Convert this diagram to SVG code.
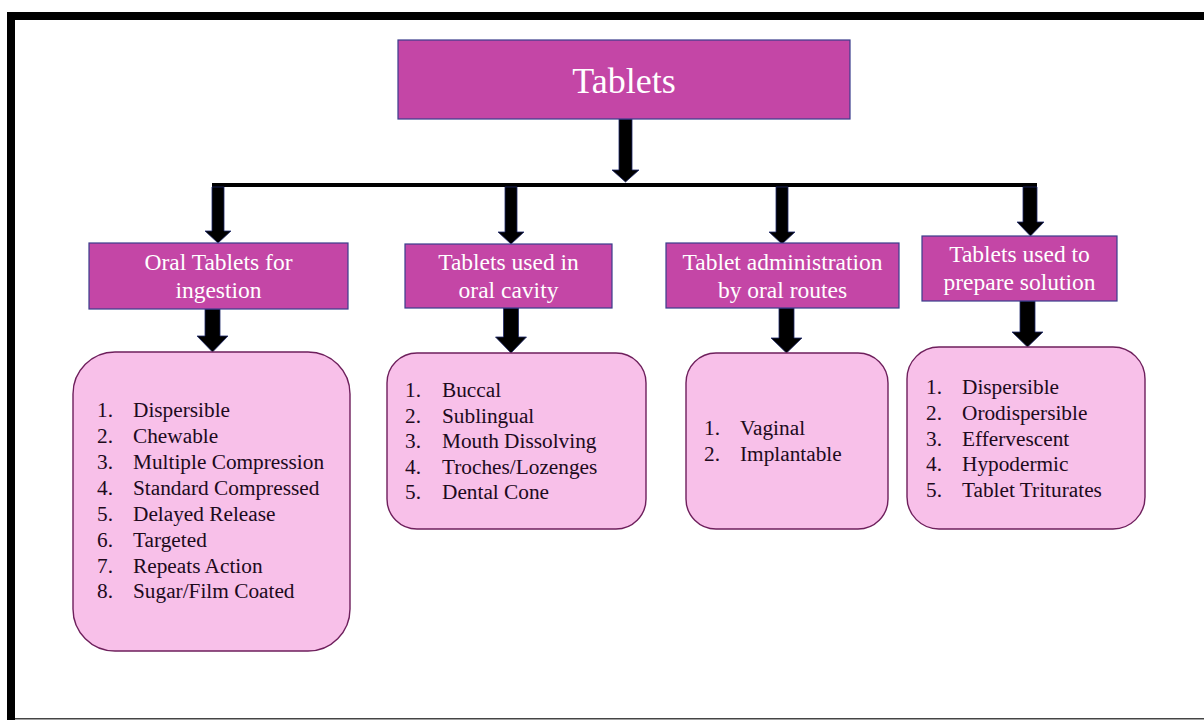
<svg xmlns="http://www.w3.org/2000/svg" width="1204" height="720" viewBox="0 0 1204 720">
<style>
.hdr{fill:#C446A6;stroke:#3A3D8C;stroke-width:1.2}
.list{fill:#F8C0E9;stroke:#6E1F5C;stroke-width:1.4}
.ht{font-family:"Liberation Serif",serif;fill:#FFFFFF;text-anchor:middle}
.lt{font-family:"Liberation Serif",serif;fill:#200A1C;font-size:21.3px}
.arr{fill:#000;stroke:#1F2A6B;stroke-width:0.8}
</style>
<rect width="1204" height="720" fill="#fff"/>
<g id="frame">
<rect x="7" y="12" width="1197" height="8" fill="#000"/>
<rect x="7" y="12" width="8" height="708" fill="#000"/>
<rect x="15" y="718" width="1189" height="1.5" fill="#444"/>
</g>
<g id="connectors">
<rect x="212" y="183" width="825" height="4" fill="#000"/>
<path class="arr" d="M619,119 H632 V170 H639 L625.5,182 L612,170 H619 Z"/>
<path class="arr" d="M212,187 H224 V231 H231 L218,243 L205,231 H212 Z"/>
<path class="arr" d="M505,187 H517 V232 H524 L511,244 L498,232 H505 Z"/>
<path class="arr" d="M776,187 H788 V232 H795 L782,244 L769,232 H776 Z"/>
<path class="arr" d="M1023,187 H1037 V222 H1044 L1030.5,236 L1017,222 H1023 Z"/>
<path class="arr" d="M205,309 H220 V336 H228 L212.5,352 L197,336 H205 Z"/>
<path class="arr" d="M503.5,308 H518.5 V337 H526.5 L511,353 L495.5,337 H503.5 Z"/>
<path class="arr" d="M779,308 H794 V338 H802 L786.5,353 L771,338 H779 Z"/>
<path class="arr" d="M1020,301 H1035 V332 H1043 L1027.5,347 L1012,332 H1020 Z"/>
</g>
<g id="tablets">
<rect class="hdr" x="398" y="40" width="452" height="79"/>
<text class="ht" x="624" y="93" font-size="36">Tablets</text>
</g>
<g id="oral-ingestion">
<rect class="hdr" x="89" y="243" width="259" height="66"/>
<text class="ht" x="218.5" y="270" font-size="23.5">Oral Tablets for</text>
<text class="ht" x="218.5" y="298" font-size="23.5">ingestion</text>
</g>
<g id="oral-cavity">
<rect class="hdr" x="405" y="244" width="207" height="64"/>
<text class="ht" x="508.5" y="270" font-size="23.5">Tablets used in</text>
<text class="ht" x="508.5" y="298" font-size="23.5">oral cavity</text>
</g>
<g id="oral-routes">
<rect class="hdr" x="666" y="243" width="233" height="65"/>
<text class="ht" x="782.5" y="270" font-size="23.5">Tablet administration</text>
<text class="ht" x="782.5" y="298" font-size="23.5">by oral routes</text>
</g>
<g id="solution">
<rect class="hdr" x="922" y="236" width="195" height="65"/>
<text class="ht" x="1019.5" y="262" font-size="23.5">Tablets used to</text>
<text class="ht" x="1019.5" y="290" font-size="23.5">prepare solution</text>
</g>
<g id="list-ingestion">
<rect class="list" x="73" y="352" width="277" height="299" rx="42" ry="42"/>
<text class="lt" x="97" y="417">1.</text><text class="lt" x="133" y="417">Dispersible</text>
<text class="lt" x="97" y="443">2.</text><text class="lt" x="133" y="443">Chewable</text>
<text class="lt" x="97" y="469">3.</text><text class="lt" x="133" y="469">Multiple Compression</text>
<text class="lt" x="97" y="495">4.</text><text class="lt" x="133" y="495">Standard Compressed</text>
<text class="lt" x="97" y="521">5.</text><text class="lt" x="133" y="521">Delayed Release</text>
<text class="lt" x="97" y="547">6.</text><text class="lt" x="133" y="547">Targeted</text>
<text class="lt" x="97" y="573">7.</text><text class="lt" x="133" y="573">Repeats Action</text>
<text class="lt" x="97" y="598">8.</text><text class="lt" x="133" y="598">Sugar/Film Coated</text>
</g>
<g id="list-cavity">
<rect class="list" x="387" y="353" width="259" height="176" rx="30" ry="30"/>
<text class="lt" x="405" y="397">1.</text><text class="lt" x="442" y="397">Buccal</text>
<text class="lt" x="405" y="422.5">2.</text><text class="lt" x="442" y="422.5">Sublingual</text>
<text class="lt" x="405" y="448">3.</text><text class="lt" x="442" y="448">Mouth Dissolving</text>
<text class="lt" x="405" y="473.5">4.</text><text class="lt" x="442" y="473.5">Troches/Lozenges</text>
<text class="lt" x="405" y="499">5.</text><text class="lt" x="442" y="499">Dental Cone</text>
</g>
<g id="list-routes">
<rect class="list" x="686" y="353" width="202" height="176" rx="30" ry="30"/>
<text class="lt" x="704" y="435">1.</text><text class="lt" x="740" y="435">Vaginal</text>
<text class="lt" x="704" y="461">2.</text><text class="lt" x="740" y="461">Implantable</text>
</g>
<g id="list-solution">
<rect class="list" x="907" y="347" width="238" height="182" rx="32" ry="32"/>
<text class="lt" x="926" y="394">1.</text><text class="lt" x="962" y="394">Dispersible</text>
<text class="lt" x="926" y="420">2.</text><text class="lt" x="962" y="420">Orodispersible</text>
<text class="lt" x="926" y="446">3.</text><text class="lt" x="962" y="446">Effervescent</text>
<text class="lt" x="926" y="471">4.</text><text class="lt" x="962" y="471">Hypodermic</text>
<text class="lt" x="926" y="497">5.</text><text class="lt" x="962" y="497">Tablet Triturates</text>
</g>
</svg>
